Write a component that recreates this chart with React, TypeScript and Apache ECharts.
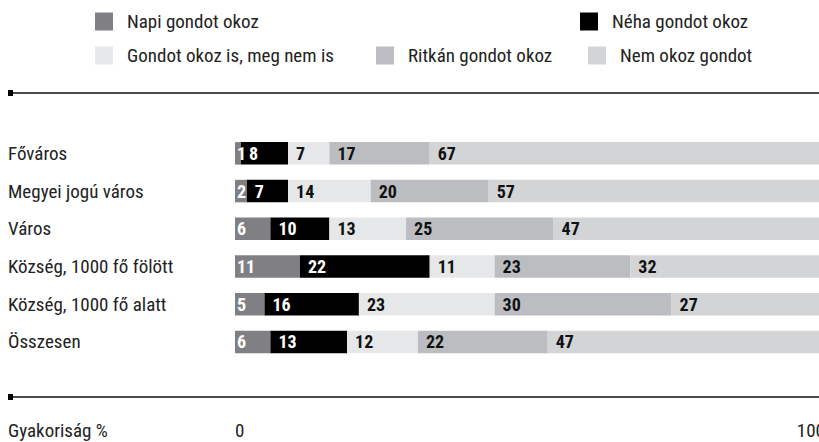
import React, { useEffect, useRef } from "react";
import * as echarts from "echarts";

const categories = [
  "Főváros",
  "Megyei jogú város",
  "Város",
  "Község, 1000 fő fölött",
  "Község, 1000 fő alatt",
  "Összesen",
];
const seriesNames = [
  "Napi gondot okoz",
  "Néha gondot okoz",
  "Gondot okoz is, meg nem is",
  "Ritkán gondot okoz",
  "Nem okoz gondot",
];
const napi = [1, 2, 6, 11, 5, 6];
const neha = [8, 7, 10, 22, 16, 13];
const isIs = [7, 14, 13, 11, 23, 12];
const ritkan = [17, 20, 25, 23, 30, 22];
const nem = [67, 57, 47, 32, 27, 47];
const seriesValues = [napi, neha, isIs, ritkan, nem];
const xTickLabels = ["0", "100"];
const axisTitle = "Gyakoriság %";

const FONT = "'Liberation Sans Narrow', 'Roboto Condensed', 'Arial Narrow', 'DejaVu Sans Condensed', Roboto, sans-serif";
const colors = ["#808084", "#000000", "#e6e7e9", "#bcbdc1", "#d3d4d6"];
const labelColors = ["#ffffff", "#ffffff", "#111111", "#111111", "#111111"];
const legendPos = [
  { left: 95, top: 12 },
  { left: 580, top: 12 },
  { left: 95, top: 46 },
  { left: 376, top: 46 },
  { left: 588, top: 46 },
];

export default function App() {
  const ref = useRef<HTMLDivElement>(null);
  useEffect(() => {
    if (!ref.current) return;
    const chart = echarts.init(ref.current, undefined, { renderer: "svg" });
    const option: any = {
      animation: false,
      textStyle: { fontFamily: FONT },
      legend: seriesNames.map((n, i) => ({
        data: [n],
        left: legendPos[i].left,
        top: legendPos[i].top,
        padding: 0,
        icon: "rect",
        itemWidth: 18,
        itemHeight: 18,
        selectedMode: false,
        textStyle: {
          fontFamily: FONT,
          fontSize: 19,
          color: "#222",
          padding: [0, 0, 0, 9],
        },
      })),
      grid: {
        left: 235,
        top: 134.5,
        width: 590,
        height: 226.3,
        containLabel: false,
        outerBoundsMode: "none",
      },
      xAxis: {
        type: "value",
        min: 0,
        max: 100,
        interval: 100,
        splitLine: { show: false },
        axisLine: { show: false },
        axisTick: { show: false },
        axisLabel: {
          margin: 60,
          fontSize: 19,
          color: "#222",
          fontFamily: FONT,
          alignMinLabel: "left",
          alignMaxLabel: "right",
          formatter: (v: number) => (v === 0 ? xTickLabels[0] : v === 100 ? xTickLabels[1] : ""),
        },
      },
      yAxis: {
        type: "category",
        data: categories,
        inverse: true,
        axisLine: { show: false },
        axisTick: { show: false },
        axisLabel: {
          align: "left",
          margin: 227,
          fontSize: 19,
          color: "#222",
          fontFamily: FONT,
        },
      },
      series: seriesNames.map((n, i) => ({
        name: n,
        type: "bar",
        stack: "all",
        data: seriesValues[i],
        barWidth: 22.5,
        itemStyle: { color: colors[i] },
        label: {
          show: true,
          position: "insideLeft",
          distance: i === 0 ? 2 : 8,
          color: labelColors[i],
          fontWeight: "bold",
          fontSize: 18,
          fontFamily: FONT,
        },
      })),
      graphic: [
        { type: "line", shape: { x1: 8, y1: 93, x2: 819, y2: 93 }, style: { stroke: "#4a4a4a", lineWidth: 2 } },
        { type: "rect", shape: { x: 8, y: 90, width: 5, height: 6 }, style: { fill: "#000" } },
        { type: "line", shape: { x1: 8, y1: 397, x2: 819, y2: 397 }, style: { stroke: "#4a4a4a", lineWidth: 2 } },
        { type: "rect", shape: { x: 8, y: 394, width: 5, height: 6 }, style: { fill: "#000" } },
        {
          type: "text",
          left: 8,
          top: 421,
          style: { text: axisTitle, fontSize: 19, fill: "#222", fontFamily: FONT },
        },
      ],
    };
    chart.setOption(option);
    return () => chart.dispose();
  }, []);
  return (
    <div
      ref={ref}
      style={{ position: "fixed", left: 0, top: 0, width: 819, height: 442, background: "#fff" }}
    />
  );
}
